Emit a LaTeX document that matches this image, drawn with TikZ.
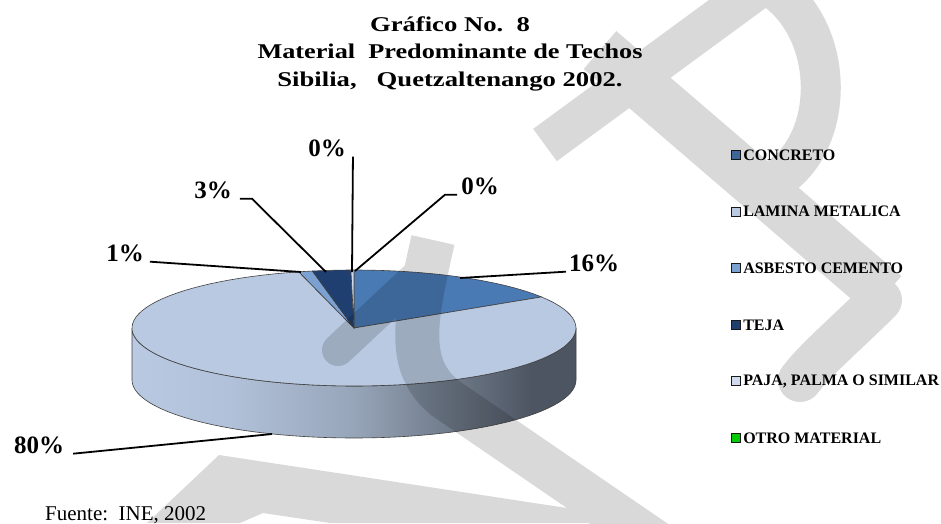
\documentclass[tikz,border=0pt]{standalone}
\usepackage{fontspec}
\usepackage{graphicx}
\setmainfont{Liberation Serif}
\usetikzlibrary{positioning}
\definecolor{concreto}{HTML}{4A7AB4}
\definecolor{lamina}{HTML}{B9C9E1}
\definecolor{asbesto}{HTML}{7BA1D2}
\definecolor{teja}{HTML}{1F3F70}
\definecolor{paja}{HTML}{D0DCEE}
\definecolor{otro}{HTML}{00CC00}
\definecolor{lado0}{HTML}{B9C9E1}
\definecolor{lado1}{HTML}{B1C1D9}
\definecolor{lado2}{HTML}{97A5B9}
\definecolor{lado3}{HTML}{6B7685}
\definecolor{lado4}{HTML}{4D5562}
\pgfdeclarehorizontalshading{ladoshade}{100bp}{color(0bp)=(lado0); color(25bp)=(lado0); color(36bp)=(lado1); color(50bp)=(lado2); color(62bp)=(lado3); color(70bp)=(lado4); color(100bp)=(lado4)}
\begin{document}
\begin{tikzpicture}[x=1pt, y=-1pt,
		pct/.style={font=\fontsize{25}{30}\selectfont\bfseries, inner sep=0pt},
		guia/.style={draw=black, line width=1.8pt},
		ley/.style={font=\fontsize{16}{19}\selectfont\bfseries, inner sep=0pt},
		caja/.style={draw=black!90, line width=1.1pt, minimum size=9pt, inner sep=0pt},
		borde/.style={draw=black!75, line width=0.6pt},
		titulo/.style={font=\fontsize{21}{25}\selectfont\bfseries, inner sep=0pt, anchor=base}]
	\useasboundingbox (0,0) rectangle (941,523);
	\fill[white] (0,0) rectangle (941,523);

	\node[titulo] (tit1) at (450,31) {\scalebox{1.27}[1]{Gráfico No.\ \ 8}};
	\node[titulo] (tit2) at (450,58) {\scalebox{1.25}[1]{Material\ \ Predominante de Techos}};
	\node[titulo] (tit3) at (450,86) {\scalebox{1.27}[1]{Sibilia,\ \ \ Quetzaltenango 2002.}};

	\shadedraw[shading=ladoshade, borde]
		plot[domain=90:270, samples=72] ({354+222*sin(\x)}, {328-58*cos(\x)})
		-- plot[domain=270:90, samples=72] ({354+222*sin(\x)}, {380-58*cos(\x)}) -- cycle;
	\foreach \ini/\fin/\col in {0/57.6/concreto, 57.6/345.6/lamina, 345.6/349.2/asbesto, 349.2/359.2/teja, 359.2/360/paja}
		\filldraw[fill=\col, borde] (354,328) -- plot[domain=\ini:\fin, samples=90] ({354+222*sin(\x)}, {328-58*cos(\x)}) -- cycle;

	\coordinate (p16) at (460,278);
	\coordinate (p80) at (272,434);
	\coordinate (p1) at (301,272);
	\coordinate (p3) at (326,272);
	\coordinate (p0a) at (352,272);
	\coordinate (p0b) at (355,271);

	\node[pct] (l16) at (594,263) {16\%};
	\node[pct] (l80) at (39,445) {80\%};
	\node[pct] (l1) at (125,253) {1\%};
	\node[pct] (l3) at (213,190) {3\%};
	\node[pct] (l0a) at (327,148) {0\%};
	\node[pct] (l0b) at (480,186) {0\%};

	\draw[guia] (p16) -- ([xshift=-3pt]l16.south west);
	\draw[guia] ([xshift=9pt]l80.south east) -- (p80);
	\draw[guia] ([xshift=6pt]l1.south east) -- (p1);
	\draw[guia] ([xshift=8pt]l3.south east) -- ++(12,0) -- (p3);
	\draw[guia] ([xshift=7pt]l0a.south east) -- (p0a);
	\draw[guia] ([xshift=-4pt]l0b.south west) -- ++(-12,0) -- (p0b);

	\foreach \txt/\col [count=\i] in {CONCRETO/concreto, LAMINA METALICA/lamina, ASBESTO CEMENTO/asbesto, TEJA/teja, {PAJA, PALMA O SIMILAR}/paja, OTRO MATERIAL/otro} {
		\node[caja, fill=\col] (c\i) at (736, {155+56.6*(\i-1)}) {};
		\node[ley, right=2pt of c\i] (t\i) {\txt};
	}

	\node[font=\fontsize{21}{25}\selectfont, anchor=base west, inner sep=0pt] (fuente) at (45,520) {Fuente:\ \ INE, 2002};

	\begin{scope}[transparency group, opacity=0.15]
		\clip (0,0) rectangle (941,523);
		\draw[line width=40pt] (545,145) -- (770,-20);
		\draw[line width=40pt] (720,-30) .. controls (840,-20) and (850,150) .. (765,185);
		\draw[line width=50pt] (600,50) -- (885,295);
		\draw[line width=44pt, line cap=round] (880,300) .. controls (850,330) and (815,360) .. (800,380);
		\draw[line width=44pt] (433,240) .. controls (415,320) and (405,365) .. (445,398) -- (660,545);
		\draw[line width=32pt, line cap=round] (432,262) -- (338,350);
		\fill (147,523) -- (219,455) -- (567,508) -- (600,523) -- (330,523) -- (263,513) -- (240,523) -- cycle;
	\end{scope}
\end{tikzpicture}
\end{document}
